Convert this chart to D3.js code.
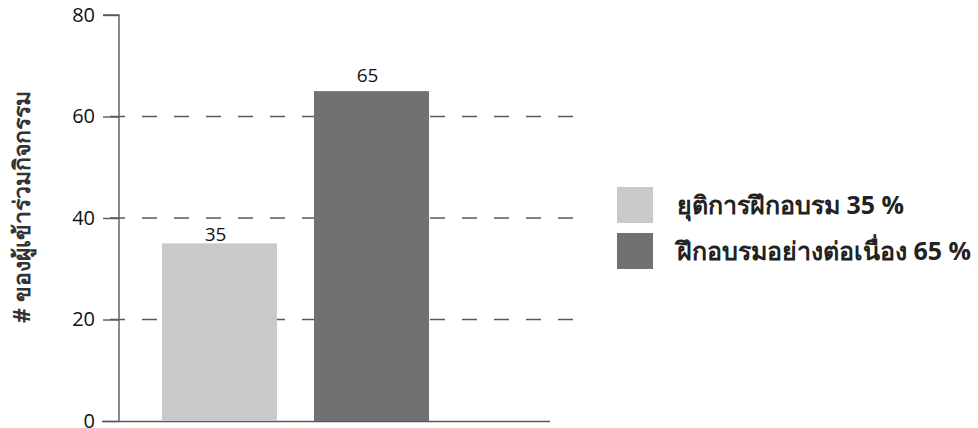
<!DOCTYPE html>
<html>
<head>
<meta charset="utf-8">
<script src="https://cdn.jsdelivr.net/npm/d3@7"></script>
<style>
  html, body { margin: 0; padding: 0; background: #fff; }
  svg { display: block; font-family: "Open Sans", "Noto Sans", "DejaVu Sans", sans-serif; }
</style>
</head>
<body>
<svg id="chart" width="978" height="428"></svg>
<script>
const categories = ["ยุติการฝึกอบรม", "ฝึกอบรมอย่างต่อเนื่อง"];
const values = [35, 65];
const legendLabels = ["ยุติการฝึกอบรม 35 %", "ฝึกอบรมอย่างต่อเนื่อง 65 %"];
const yTicks = [0, 20, 40, 60, 80];
const yLabel = "# ของผู้เข้าร่วมกิจกรรม";
const colors = ["#c8c9ca", "#717073"];

const svg = d3.select("#chart");
const axisColor = "#58595b";

const y = d3.scaleLinear().domain([0, 80]).range([421, 15]);
const x = d3.scaleBand().domain(categories).range([143.5, 447.5]).paddingInner(0.2434).paddingOuter(0.1217);

// gridlines
const gridVals = yTicks.filter(d => d > 0 && d < 80);
svg.append("g").selectAll("line").data(gridVals).join("line")
  .attr("x1", 110).attr("x2", 575)
  .attr("y1", d => y(d)).attr("y2", d => y(d))
  .attr("stroke", axisColor).attr("stroke-width", 1.3)
  .attr("stroke-dasharray", "15,17");

// x baseline
svg.append("line").attr("x1", 102).attr("x2", 550).attr("y1", y(0) + 0.5).attr("y2", y(0) + 0.5)
  .attr("stroke", axisColor).attr("stroke-width", 1.4);

// bars
svg.append("g").selectAll("rect").data(values).join("rect")
  .attr("x", (d, i) => x(categories[i]))
  .attr("width", x.bandwidth())
  .attr("y", d => y(d))
  .attr("height", d => y(0) - y(d))
  .attr("fill", (d, i) => colors[i]);

// value labels (sit lower when a gridline would cross them)
function labelGap(d) {
  const base = y(d) - 9, top = base - 15;
  return gridVals.some(g => y(g) > top - 2 && y(g) < base + 2) ? 2 : 9;
}
svg.append("g").selectAll("text").data(values).join("text")
  .attr("x", (d, i) => x(categories[i]) + x.bandwidth() / 2 - 4)
  .attr("y", d => y(d) - labelGap(d))
  .attr("text-anchor", "middle")
  .attr("font-size", 19).attr("fill", "#111")
  .text(d => d);

// y axis
const yAxis = d3.axisLeft(y).tickValues(yTicks).tickSize(16).tickPadding(8);
const gy = svg.append("g").attr("transform", "translate(119,0)").call(yAxis);
gy.attr("font-family", null).attr("font-size", null);
gy.select(".domain").attr("stroke", axisColor).attr("stroke-width", 1.4).attr("d", `M-16,${y(80)}H0V${y(0)}`);
gy.selectAll(".tick line").attr("stroke", axisColor).attr("stroke-width", 1.4);
gy.selectAll(".tick text").style("font-size", "20px").attr("fill", "#111");

// y label
svg.append("text")
  .attr("transform", "translate(30,207) rotate(-90)")
  .attr("text-anchor", "middle")
  .attr("font-size", 23).attr("font-weight", "bold").attr("fill", "#333")
  .text(yLabel);

// legend
const lg = svg.append("g").selectAll("g").data(legendLabels).join("g")
  .attr("transform", (d, i) => `translate(617,${187 + i * 46})`);
lg.append("rect").attr("width", 36).attr("height", 36).attr("fill", (d, i) => colors[i]);
lg.append("text").attr("x", 60).attr("y", 27)
  .attr("font-size", 25).attr("font-weight", "bold").attr("fill", "#222")
  .text(d => d);
</script>
</body>
</html>
